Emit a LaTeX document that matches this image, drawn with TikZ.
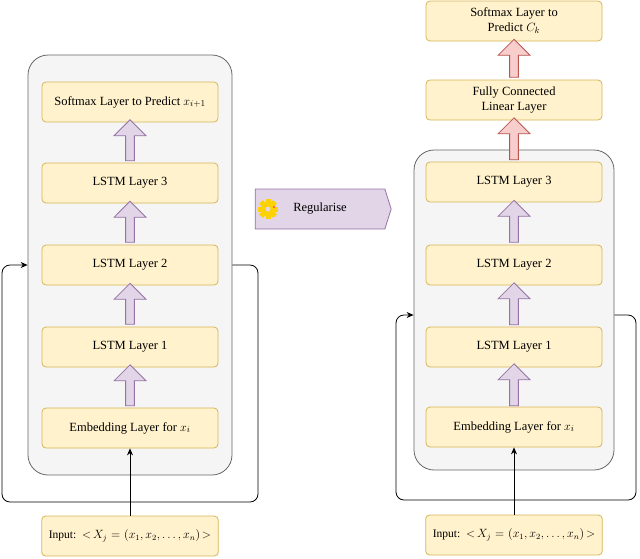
\documentclass[tikz,border=0pt]{standalone}
\usepackage{fontspec}
\setmainfont{Liberation Serif}
\usetikzlibrary{shapes.arrows,shapes.symbols,arrows.meta}
\definecolor{boxfill}{HTML}{FFF2CC}
\definecolor{boxline}{HTML}{D6B656}
\definecolor{purfill}{HTML}{E1D5E7}
\definecolor{purline}{HTML}{9673A6}
\definecolor{redfill}{HTML}{F8CECC}
\definecolor{redline}{HTML}{B85450}
\definecolor{contfill}{HTML}{F5F5F5}
\definecolor{contline}{HTML}{666666}
\begin{document}
\begin{tikzpicture}[x=1pt, y=-1pt,
  box/.style={draw=boxline, fill=boxfill, rounded corners=4pt, minimum width=176pt,
    minimum height=40pt, align=center, font=\fontsize{12.5}{15}\selectfont, line width=0.8pt},
  inbox/.style={box, text width=170pt, font=\fontsize{11.5}{14}\selectfont},
  cont/.style={draw=contline, fill=contfill, rounded corners=20pt, line width=0.8pt},
  barrow/.style={single arrow, draw=purline, fill=purfill, line width=0.8pt, rotate=90,
    minimum width=32pt, single arrow head extend=9pt, inner sep=3pt},
  rarrow/.style={barrow, draw=redline, fill=redfill},
  feed/.style={-{Stealth[length=7pt,width=6pt]}, line width=0.8pt},
  loop/.style={feed, rounded corners=8pt}]
\useasboundingbox (0,0) rectangle (640,558);

% left column
\node[cont, minimum width=204pt, minimum height=420pt] (lc) at (130,265) {};
\node[box] (l5) at (130,102) {Softmax Layer to Predict $x_{i+1}$};
\node[box] (l4) at (130,183) {LSTM Layer 3};
\node[box] (l3) at (130,265) {LSTM Layer 2};
\node[box] (l2) at (130,347) {LSTM Layer 1};
\node[box] (l1) at (130,428) {Embedding Layer for $x_i$};
\node[inbox] (lin) at (130,536) {Input: $<\!X_j = (x_1, x_2, \ldots, x_n)\!>$};
\foreach \a/\b in {l1/l2,l2/l3,l3/l4,l4/l5}
  \path (\a.north) -- (\b.south) node[midway, barrow, minimum height=41pt] {};
\draw[feed] (lin) -- (l1);
\draw[loop] (lc.east |- l3.center) -- (258,265) -- (258,502) -- (2,502) -- (2,265)
  -- (lc.west |- l3.center);

% regularise
\node[signal, signal to=east, signal pointer angle=145, draw=purline, fill=purfill,
  line width=0.8pt, minimum width=136pt, minimum height=40pt] (reg) at (320,209) {};
\node[font=\fontsize{12.5}{15}\selectfont] (regt) at (320,209) {Regularise};
\begin{scope}[shift={(268,209)}]
  \foreach \t in {0,45,...,315}
    \fill[rotate=\t, yellow!70!orange] (-2.5,-10) rectangle (2.5,-5);
  \fill[yellow!70!orange] (0,0) circle (7.5pt);
  \fill[purfill] (0,0) circle (2.5pt);
  \fill[red!70] (6,-2) circle (1.2pt);
\end{scope}

% right column
\node[cont, minimum width=200pt, minimum height=320pt] (rc) at (514,310) {};
\node[box] (r7) at (514,21) {Softmax Layer to\\Predict $C_k$};
\node[box] (r6) at (514,100) {Fully Connected\\Linear Layer};
\node[box] (r5) at (514,182) {LSTM Layer 3};
\node[box] (r4) at (514,265) {LSTM Layer 2};
\node[box] (r3) at (514,347) {LSTM Layer 1};
\node[box] (r2) at (514,427) {Embedding Layer for $x_i$};
\node[inbox] (rin) at (514,535) {Input: $<\!X_j = (x_1, x_2, \ldots, x_n)\!>$};
\foreach \a/\b in {r2/r3,r3/r4,r4/r5}
  \path (\a.north) -- (\b.south) node[midway, barrow, minimum height=42pt] {};
\path (r5.north) -- (r6.south) node[midway, rarrow, minimum height=42pt] {};
\path (r6.north) -- (r7.south) node[midway, rarrow, minimum height=38pt] {};
\draw[feed] (rin) -- (r2);
\coordinate (rl) at (514,315);
\draw[loop] (rc.east |- rl) -- (636,315) -- (636,500) -- (396,500) -- (396,315)
  -- (rc.west |- rl);
\end{tikzpicture}
\end{document}
